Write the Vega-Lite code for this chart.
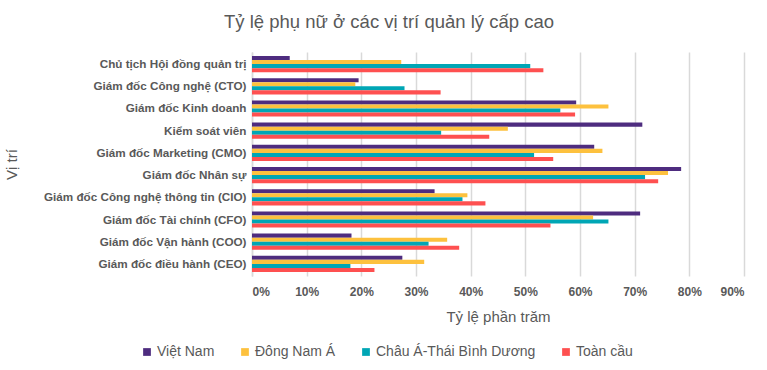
{
  "$schema": "https://vega.github.io/schema/vega-lite/v6.json",
  "width": 492,
  "height": 224,
  "padding": {"left": 4, "top": 12, "right": 10, "bottom": 5},
  "background": "white",
  "title": {"text": "Tỷ lệ phụ nữ ở các vị trí quản lý cấp cao", "fontSize": 18.5, "font": "Liberation Sans", "fontWeight": "normal", "color": "#595959", "anchor": "middle", "offset": 21, "dx": -109},
  "config": {"view": {"stroke": null}, "font": "Liberation Sans"},
  "data": {"values": [
    {"vt": "Chủ tịch Hội đồng quản trị", "kv": "Việt Nam", "v": 0.069},
    {"vt": "Chủ tịch Hội đồng quản trị", "kv": "Đông Nam Á", "v": 0.273},
    {"vt": "Chủ tịch Hội đồng quản trị", "kv": "Châu Á-Thái Bình Dương", "v": 0.509},
    {"vt": "Chủ tịch Hội đồng quản trị", "kv": "Toàn cầu", "v": 0.533},
    {"vt": "Giám đốc Công nghệ (CTO)", "kv": "Việt Nam", "v": 0.195},
    {"vt": "Giám đốc Công nghệ (CTO)", "kv": "Đông Nam Á", "v": 0.189},
    {"vt": "Giám đốc Công nghệ (CTO)", "kv": "Châu Á-Thái Bình Dương", "v": 0.279},
    {"vt": "Giám đốc Công nghệ (CTO)", "kv": "Toàn cầu", "v": 0.345},
    {"vt": "Giám đốc Kinh doanh", "kv": "Việt Nam", "v": 0.593},
    {"vt": "Giám đốc Kinh doanh", "kv": "Đông Nam Á", "v": 0.652},
    {"vt": "Giám đốc Kinh doanh", "kv": "Châu Á-Thái Bình Dương", "v": 0.564},
    {"vt": "Giám đốc Kinh doanh", "kv": "Toàn cầu", "v": 0.591},
    {"vt": "Kiểm soát viên", "kv": "Việt Nam", "v": 0.714},
    {"vt": "Kiểm soát viên", "kv": "Đông Nam Á", "v": 0.468},
    {"vt": "Kiểm soát viên", "kv": "Châu Á-Thái Bình Dương", "v": 0.346},
    {"vt": "Kiểm soát viên", "kv": "Toàn cầu", "v": 0.434},
    {"vt": "Giám đốc Marketing (CMO)", "kv": "Việt Nam", "v": 0.626},
    {"vt": "Giám đốc Marketing (CMO)", "kv": "Đông Nam Á", "v": 0.641},
    {"vt": "Giám đốc Marketing (CMO)", "kv": "Châu Á-Thái Bình Dương", "v": 0.516},
    {"vt": "Giám đốc Marketing (CMO)", "kv": "Toàn cầu", "v": 0.551},
    {"vt": "Giám đốc Nhân sự", "kv": "Việt Nam", "v": 0.785},
    {"vt": "Giám đốc Nhân sự", "kv": "Đông Nam Á", "v": 0.761},
    {"vt": "Giám đốc Nhân sự", "kv": "Châu Á-Thái Bình Dương", "v": 0.719},
    {"vt": "Giám đốc Nhân sự", "kv": "Toàn cầu", "v": 0.743},
    {"vt": "Giám đốc Công nghệ thông tin (CIO)", "kv": "Việt Nam", "v": 0.334},
    {"vt": "Giám đốc Công nghệ thông tin (CIO)", "kv": "Đông Nam Á", "v": 0.394},
    {"vt": "Giám đốc Công nghệ thông tin (CIO)", "kv": "Châu Á-Thái Bình Dương", "v": 0.385},
    {"vt": "Giám đốc Công nghệ thông tin (CIO)", "kv": "Toàn cầu", "v": 0.427},
    {"vt": "Giám đốc Tài chính (CFO)", "kv": "Việt Nam", "v": 0.710},
    {"vt": "Giám đốc Tài chính (CFO)", "kv": "Đông Nam Á", "v": 0.624},
    {"vt": "Giám đốc Tài chính (CFO)", "kv": "Châu Á-Thái Bình Dương", "v": 0.652},
    {"vt": "Giám đốc Tài chính (CFO)", "kv": "Toàn cầu", "v": 0.546},
    {"vt": "Giám đốc Vận hành (COO)", "kv": "Việt Nam", "v": 0.182},
    {"vt": "Giám đốc Vận hành (COO)", "kv": "Đông Nam Á", "v": 0.357},
    {"vt": "Giám đốc Vận hành (COO)", "kv": "Châu Á-Thái Bình Dương", "v": 0.323},
    {"vt": "Giám đốc Vận hành (COO)", "kv": "Toàn cầu", "v": 0.379},
    {"vt": "Giám đốc điều hành (CEO)", "kv": "Việt Nam", "v": 0.275},
    {"vt": "Giám đốc điều hành (CEO)", "kv": "Đông Nam Á", "v": 0.315},
    {"vt": "Giám đốc điều hành (CEO)", "kv": "Châu Á-Thái Bình Dương", "v": 0.180},
    {"vt": "Giám đốc điều hành (CEO)", "kv": "Toàn cầu", "v": 0.224}
  ]},
  "mark": {"type": "bar", "cornerRadius": 0},
  "encoding": {
    "y": {"field": "vt", "type": "nominal", "sort": null,
      "scale": {"paddingInner": 0.27, "paddingOuter": 0.18},
      "axis": {"title": "Vị trí", "titleFontSize": 15, "titleFontWeight": "normal", "titleColor": "#595959", "titlePadding": 33,
        "labelFontSize": 11.7, "labelFontWeight": "bold", "labelColor": "#595959", "labelPadding": 6, "labelLimit": 400,
        "ticks": false, "domainColor": "#d9d9d9", "domainWidth": 1.5, "grid": false}},
    "yOffset": {"field": "kv", "type": "nominal", "sort": ["Việt Nam", "Đông Nam Á", "Châu Á-Thái Bình Dương", "Toàn cầu"]},
    "x": {"field": "v", "type": "quantitative",
      "scale": {"domain": [0, 0.9], "nice": false},
      "axis": {"title": "Tỷ lệ phần trăm", "titleFontSize": 15, "titleFontWeight": "normal", "titleColor": "#595959", "titlePadding": 12,
        "format": "0%", "values": [0, 0.1, 0.2, 0.3, 0.4, 0.5, 0.6, 0.7, 0.8, 0.9],
        "labelFontSize": 12, "labelFontWeight": "bold", "labelColor": "#595959", "labelPadding": 10,
        "ticks": false, "domain": false, "gridColor": "#d9d9d9", "gridWidth": 1.5}},
    "color": {"field": "kv", "type": "nominal",
      "sort": ["Việt Nam", "Đông Nam Á", "Châu Á-Thái Bình Dương", "Toàn cầu"],
      "scale": {"domain": ["Việt Nam", "Đông Nam Á", "Châu Á-Thái Bình Dương", "Toàn cầu"], "range": ["#4e2c7f", "#fdc13e", "#00a6b5", "#fe5050"]},
      "legend": {"orient": "none", "legendX": -112, "legendY": 293, "direction": "horizontal", "title": null, "labelFontSize": 14, "labelColor": "#595959", "labelLimit": 400,
        "symbolType": "square", "symbolSize": 60, "symbolStrokeWidth": 0, "columnPadding": 23, "labelOffset": 3}}
  }
}
